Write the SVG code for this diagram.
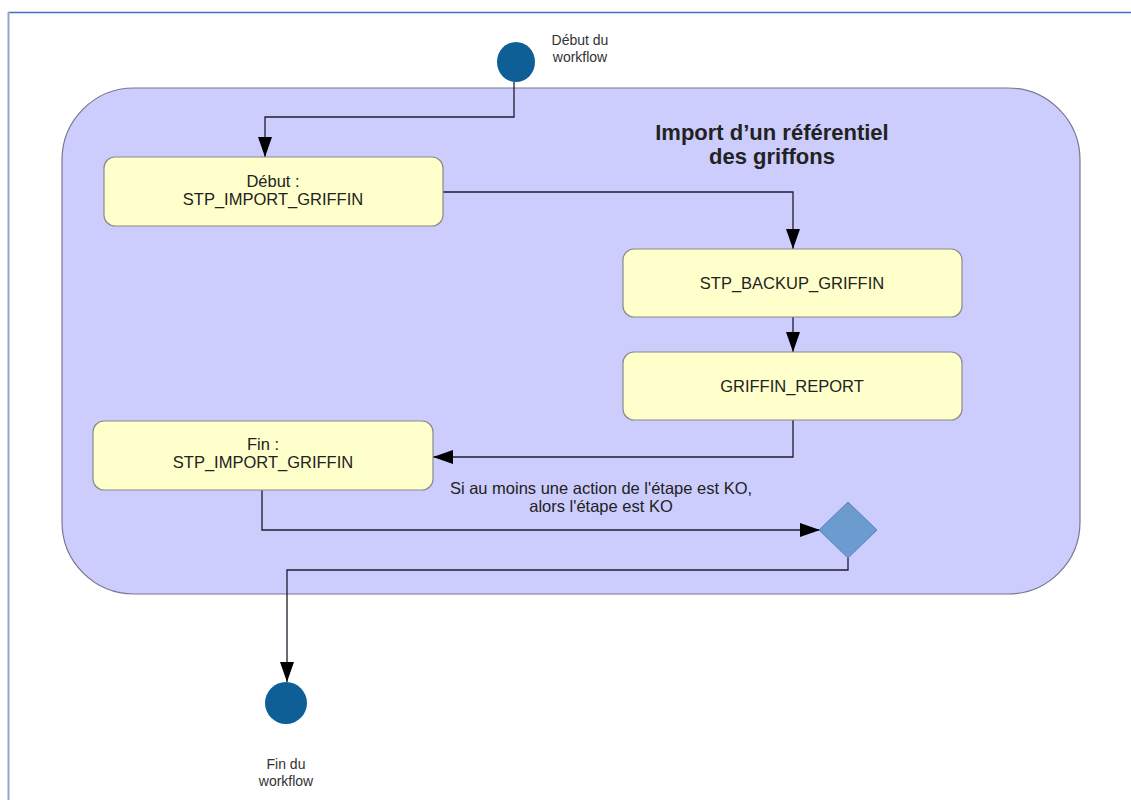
<svg xmlns="http://www.w3.org/2000/svg" width="1131" height="800" viewBox="0 0 1131 800">
<style>
.box{fill:#ffffcc;stroke:#8a8a8a;stroke-width:1.2}
.t{font-family:"Liberation Sans",Arial,sans-serif;font-size:16.5px;fill:#222;text-anchor:middle}
.lbl{font-family:"Liberation Sans",Arial,sans-serif;font-size:14px;fill:#333;text-anchor:middle}
.cond{font-family:"Liberation Sans",Arial,sans-serif;font-size:16.5px;fill:#222;text-anchor:middle}
.ttl{font-family:"Liberation Sans",Arial,sans-serif;font-size:22px;font-weight:bold;fill:#222;text-anchor:middle}
.c{fill:none;stroke:#1c1c30;stroke-width:1.3}
.dot{fill:#0f5f97}
</style>
<defs>
<marker id="ah" markerWidth="21" markerHeight="16" refX="20" refY="8" orient="auto" markerUnits="userSpaceOnUse">
<path d="M0,1 L20,8 L0,15 Z" fill="#000"/>
</marker>
</defs>
<rect width="1131" height="800" fill="#ffffff"/>
<g id="frame">
<line x1="8" y1="12.5" x2="1131" y2="12.5" stroke="#3f72bd" stroke-width="1.5"/>
<line x1="8.5" y1="12" x2="8.5" y2="800" stroke="#8ea8d6" stroke-width="2"/>
</g>
<g id="container">
<rect x="62" y="88" width="1018" height="506" rx="72" ry="72" fill="#ccccfd" stroke="#777790" stroke-width="1.2"/>
<text class="ttl" x="772" y="140">Import d’un référentiel</text>
<text class="ttl" x="772" y="164">des griffons</text>
</g>
<g id="start">
<ellipse class="dot" cx="516" cy="62" rx="19" ry="20"/>
<text class="lbl" x="580" y="45">Début du</text>
<text class="lbl" x="580" y="62">workflow</text>
</g>
<g id="connectors">
<path class="c" d="M514,82 V117 H265 V157" marker-end="url(#ah)"/>
<path class="c" d="M443,192 H793 V249" marker-end="url(#ah)"/>
<path class="c" d="M793,317 V352" marker-end="url(#ah)"/>
<path class="c" d="M793,420 V457 H433" marker-end="url(#ah)"/>
<path class="c" d="M262,490 V530 H820" marker-end="url(#ah)"/>
<path class="c" d="M848,558 V570 H287 V682" marker-end="url(#ah)"/>
<text class="cond" x="601" y="494">Si au moins une action de l'étape est KO,</text>
<text class="cond" x="601" y="512">alors l'étape est KO</text>
</g>
<g id="n1">
<rect class="box" x="104" y="157" width="339" height="69" rx="11"/>
<text class="t" x="273" y="187">Début :</text>
<text class="t" x="273" y="205">STP_IMPORT_GRIFFIN</text>
</g>
<g id="n2">
<rect class="box" x="623" y="249" width="339" height="68" rx="11"/>
<text class="t" x="792" y="289">STP_BACKUP_GRIFFIN</text>
</g>
<g id="n3">
<rect class="box" x="623" y="352" width="339" height="68" rx="11"/>
<text class="t" x="792" y="392">GRIFFIN_REPORT</text>
</g>
<g id="n4">
<rect class="box" x="93" y="421" width="340" height="69" rx="11"/>
<text class="t" x="263" y="450">Fin :</text>
<text class="t" x="263" y="468">STP_IMPORT_GRIFFIN</text>
</g>
<g id="decision">
<polygon points="848,502 877,530 848,558 819,530" fill="#6c9bcf" stroke="#5a83b8" stroke-width="1"/>
</g>
<g id="end">
<ellipse class="dot" cx="286" cy="703" rx="21" ry="21"/>
<text class="lbl" x="286" y="769">Fin du</text>
<text class="lbl" x="286" y="786">workflow</text>
</g>
</svg>
